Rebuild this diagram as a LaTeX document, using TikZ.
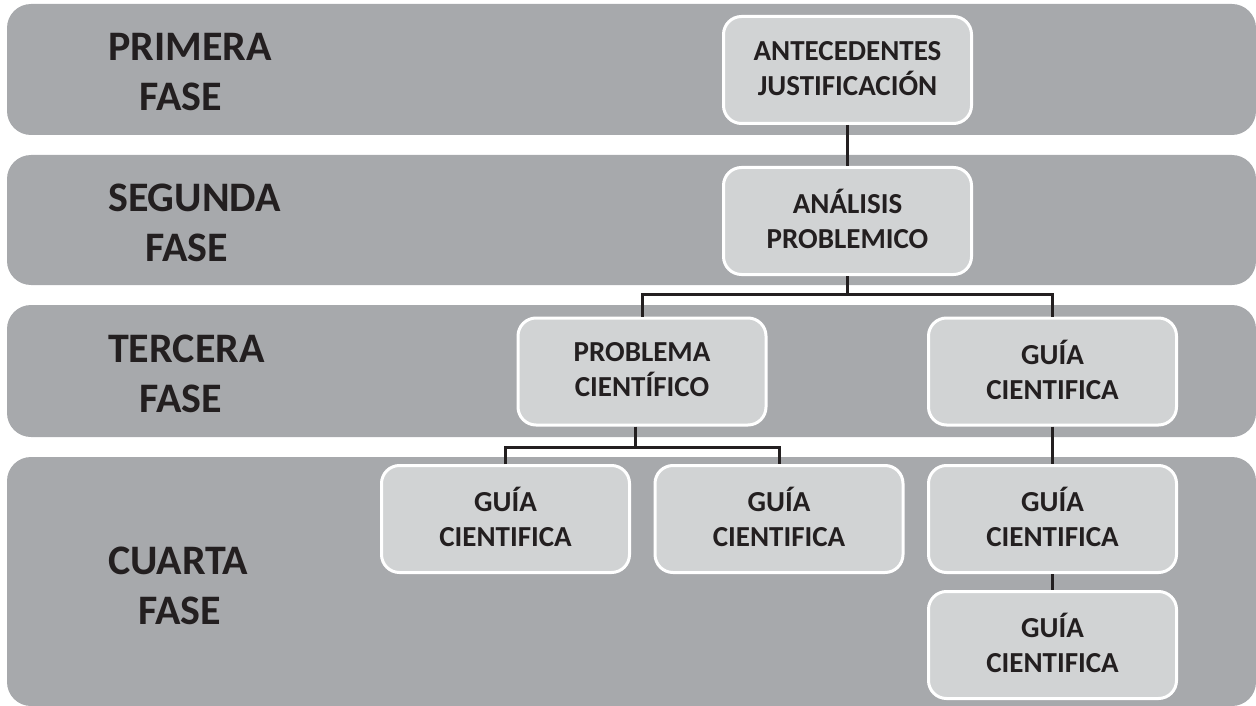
\documentclass[tikz,border=0pt]{standalone}
\usepackage{fontspec}
\setmainfont{Carlito}
\usepackage{tikz}

\definecolor{bandgray}{HTML}{A7A9AC}
\definecolor{boxgray}{HTML}{D1D3D4}
\definecolor{ink}{HTML}{231F20}

\tikzset{
    band/.style={fill=bandgray, rounded corners=24pt},
    fase/.style={anchor=west, inner sep=0pt, align=left, text=ink,
        font=\fontsize{42}{50}\selectfont\bfseries},
    caja/.style={draw=white, line width=3pt, fill=boxgray, rounded corners=18pt,
        minimum width=248pt, minimum height=107pt, align=center, text=ink,
        font=\fontsize{29}{35}\selectfont\bfseries,
        execute at begin node={\rule{0pt}{33pt}},
        execute at end node={\rule[-4pt]{0pt}{4pt}}},
    conn/.style={draw=ink, line width=3pt}
}

\begin{document}
\begin{tikzpicture}[x=1pt, y=-1pt]
\useasboundingbox (0,0) rectangle (1256,706);

% bandas de fases
\fill[band] (7,4) rectangle (1256,135);
\fill[band] (7,155) rectangle (1256,285);
\fill[band] (7,305) rectangle (1256,437);
\fill[band] (7,457) rectangle (1256,706);

\node[fase] (f1) at (108,72.5) {PRIMERA\\\hspace{31pt}FASE};
\node[fase] (f2) at (108,222.5) {SEGUNDA\\\hspace{37pt}FASE};
\node[fase] (f3) at (108,373.5) {TERCERA\\\hspace{31pt}FASE};
\node[fase] (f4) at (108,585.5) {CUARTA\\\hspace{30pt}FASE};

% cajas
\node[caja] (ant) at (847.5,70) {ANTECEDENTES\\JUSTIFICACIÓN};
\node[caja] (ana) at (847.5,221) {ANÁLISIS\\PROBLEMICO};
\node[caja] (prob) at (642,371.5) {PROBLEMA\\CIENTÍFICO};
\node[caja] (g3) at (1052.5,371.5) {GUÍA\\CIENTIFICA};
\node[caja] (g1) at (505.5,519) {GUÍA\\CIENTIFICA};
\node[caja] (g2) at (779,519) {GUÍA\\CIENTIFICA};
\node[caja] (g4) at (1052.5,519) {GUÍA\\CIENTIFICA};
\node[caja] (g5) at (1052.5,645) {GUÍA\\CIENTIFICA};

\coordinate (j1) at (847.5,294);
\coordinate (j2) at (635,447);

% conectores
\draw[conn] (ant) -- (ana);
\draw[conn] (ana) -- (j1);
\draw[conn] (prob.north) |- (j1) -| (g3.north);
\draw[conn] (j2 |- prob.south) -- (j2);
\draw[conn] (g1.north) |- (j2) -| (g2.north);
\draw[conn] (g3) -- (g4);
\draw[conn] (g4) -- (g5);
\end{tikzpicture}
\end{document}
